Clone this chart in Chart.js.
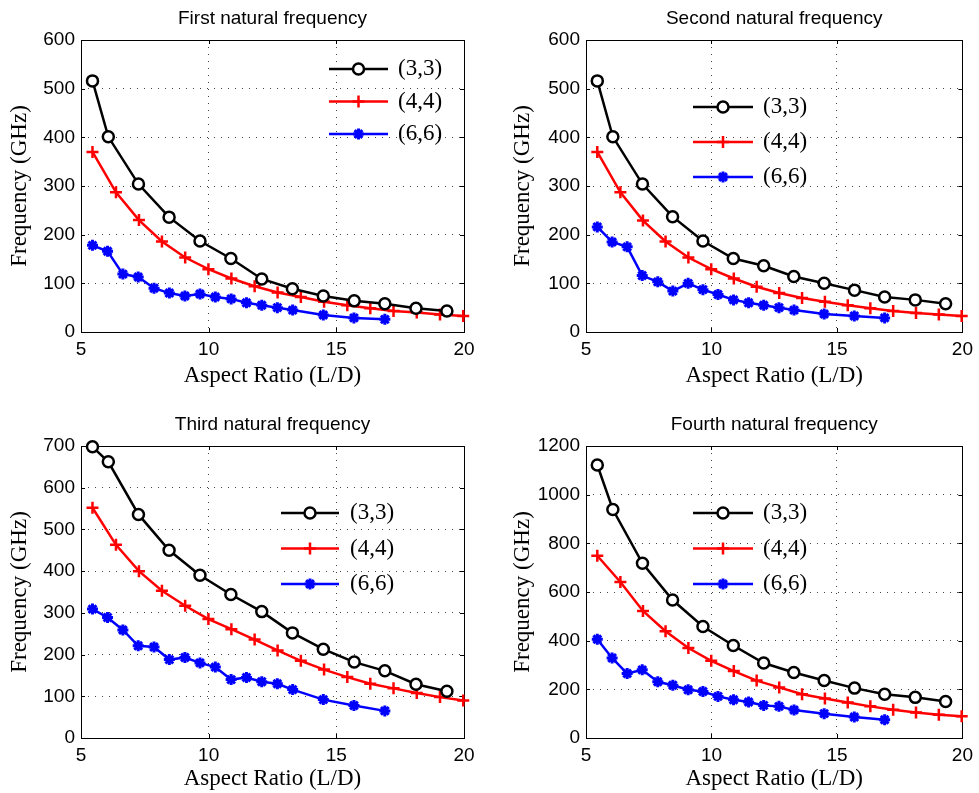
<!DOCTYPE html>
<html>
<head>
<meta charset="utf-8">
<script src="https://cdn.jsdelivr.net/npm/chart.js@4.4.1/dist/chart.umd.min.js"></script>
<style>
  html, body { margin: 0; padding: 0; background: #ffffff; }
  #wrap { position: relative; width: 979px; height: 793px; overflow: hidden; }
  canvas { position: absolute; }
</style>
</head>
<body>
<div id="wrap">
  <canvas id="c1" width="490" height="397" style="left:0px;top:0px"></canvas>
  <canvas id="c2" width="489" height="397" style="left:490px;top:0px"></canvas>
  <canvas id="c3" width="490" height="396" style="left:0px;top:397px"></canvas>
  <canvas id="c4" width="489" height="396" style="left:490px;top:397px"></canvas>
</div>
<script>
// ---------- DATA ----------
const seriesNames = ['(3,3)', '(4,4)', '(6,6)'];
const chartTitles = ['First natural frequency', 'Second natural frequency', 'Third natural frequency', 'Fourth natural frequency'];
const xTitle = 'Aspect Ratio (L/D)';
const yTitle = 'Frequency (GHz)';

// aspect ratios (L/D) for each tube
const aspect33 = [5.45, 6.07, 7.25, 8.45, 9.66, 10.87, 12.08, 13.28, 14.49, 15.70, 16.90, 18.12, 19.33];
const aspect44 = [5.45, 6.37, 7.27, 8.17, 9.08, 9.99, 10.89, 11.80, 12.70, 13.61, 14.52, 15.43, 16.33, 17.24, 18.15, 19.06, 19.97];
const aspect66 = [5.45, 6.04, 6.64, 7.24, 7.86, 8.46, 9.07, 9.66, 10.26, 10.88, 11.48, 12.08, 12.69, 13.29, 14.49, 15.69, 16.90];

// first natural frequency (GHz)
const f1_33 = [516, 401, 304, 236, 187, 151, 109, 89, 74, 64, 58, 49, 43];
const f1_44 = [370, 287, 230, 186, 153, 129, 110, 94, 81, 72, 62, 55, 49, 43, 40, 36, 33];
const f1_66 = [178, 166, 119, 113, 90, 80, 74, 78, 72, 68, 60, 55, 50, 45, 35, 29, 26];

// second natural frequency (GHz)
const f2_33 = [516, 401, 304, 237, 187, 151, 136, 114, 100, 86, 72, 66, 58];
const f2_44 = [370, 287, 229, 186, 153, 129, 110, 93, 80, 70, 62, 55, 49, 43, 39, 36, 33];
const f2_66 = [216, 185, 175, 116, 103, 84, 100, 87, 77, 66, 60, 55, 50, 45, 37, 33, 29];

// third natural frequency (GHz)
const f3_33 = [698, 662, 536, 450, 390, 344, 303, 252, 213, 182, 161, 129, 112];
const f3_44 = [552, 463, 400, 353, 317, 285, 261, 236, 210, 185, 164, 146, 130, 119, 108, 98, 90];
const f3_66 = [309, 289, 259, 221, 218, 188, 193, 180, 170, 140, 145, 135, 130, 116, 92, 78, 65];

// fourth natural frequency (GHz)
const f4_33 = [1122, 939, 718, 567, 458, 380, 308, 269, 236, 205, 180, 167, 150];
const f4_44 = [749, 641, 522, 439, 370, 317, 275, 236, 208, 180, 162, 146, 130, 116, 105, 96, 89];
const f4_66 = [406, 329, 265, 280, 231, 217, 198, 191, 171, 157, 148, 134, 130, 115, 100, 86, 75];

// axis ticks
const xTicks = [5, 10, 15, 20];
const yMax = [600, 600, 700, 1200];
const yStep = [100, 100, 100, 200];

// ---------- STYLE ----------
const styles = [
  { color: '#000000', pointStyle: 'circle', radius: 5.5, pbw: 2.5, fill: '#ffffff' },
  { color: '#ff0000', pointStyle: 'cross', radius: 6, pbw: 2.5, fill: '#ff0000' },
  { color: '#0000ff', pointStyle: 'star', radius: 5.5, pbw: 3, fill: '#0000ff' }
];

function toXY(xs, ys) { return ys.map((v, i) => ({ x: xs[i], y: v })); }

const framePlugin = {
  id: 'frame',
  beforeDatasetsDraw(chart) {
    const { ctx, chartArea: a, scales } = chart;
    ctx.save();
    ctx.strokeStyle = '#000';
    ctx.lineWidth = 1;
    ctx.strokeRect(Math.round(a.left) + 0.5, Math.round(a.top) + 0.5, Math.round(a.right - a.left), Math.round(a.bottom - a.top));
    const tl = 4;
    ctx.beginPath();
    scales.x.ticks.forEach(t => {
      const px = Math.round(scales.x.getPixelForValue(t.value)) + 0.5;
      ctx.moveTo(px, a.bottom); ctx.lineTo(px, a.bottom - tl);
      ctx.moveTo(px, a.top); ctx.lineTo(px, a.top + tl);
    });
    scales.y.ticks.forEach(t => {
      const py = Math.round(scales.y.getPixelForValue(t.value)) + 0.5;
      ctx.moveTo(a.left, py); ctx.lineTo(a.left + tl, py);
      ctx.moveTo(a.right, py); ctx.lineTo(a.right - tl, py);
    });
    ctx.stroke();
    ctx.restore();
  }
};

const legendPlugin = {
  id: 'innerLegend',
  afterDatasetsDraw(chart, args, opts) {
    const { ctx } = chart;
    ctx.save();
    chart.data.datasets.forEach((ds, i) => {
      const y = opts.y0 + i * opts.dy;
      ctx.strokeStyle = ds.borderColor;
      ctx.lineWidth = ds.borderWidth;
      ctx.beginPath();
      ctx.moveTo(opts.x1, y); ctx.lineTo(opts.x2, y);
      ctx.stroke();
      ctx.strokeStyle = ds.pointBorderColor;
      ctx.fillStyle = ds.pointBackgroundColor;
      ctx.lineWidth = ds.pointBorderWidth;
      Chart.helpers.drawPoint(ctx, { pointStyle: ds.pointStyle, rotation: 0, radius: ds.pointRadius, borderWidth: ds.pointBorderWidth }, (opts.x1 + opts.x2) / 2, y);
      ctx.fillStyle = '#000';
      ctx.font = '23px "Liberation Serif", "Times New Roman", serif';
      ctx.textBaseline = 'middle';
      ctx.textAlign = 'left';
      ctx.fillText(ds.label, opts.tx, y);
    });
    ctx.restore();
  }
};

const panels = [
  { id: 'c1', data: [f1_33, f1_44, f1_66], yw: 81, pr: 26, xh: 65, tTop: 7, tBot: 10.2, yTitlePad: 6.2, xTitlePad: 7.5,
    legend: { x1: 329, x2: 388, tx: 398, y0: 69, dy: 32.5 } },
  { id: 'c2', data: [f2_33, f2_44, f2_66], yw: 96, pr: 12, xh: 65, tTop: 7, tBot: 10.2, yTitlePad: 19.2, xTitlePad: 7.5,
    legend: { x1: 203, x2: 263, tx: 273, y0: 107, dy: 35 } },
  { id: 'c3', data: [f3_33, f3_44, f3_66], yw: 81, pr: 26, xh: 55, tTop: 16, tBot: 10.2, yTitlePad: 6.2, xTitlePad: 0,
    legend: { x1: 281, x2: 339, tx: 350, y0: 116, dy: 35.5 } },
  { id: 'c4', data: [f4_33, f4_44, f4_66], yw: 96, pr: 12, xh: 55, tTop: 16, tBot: 10.2, yTitlePad: 19.2, xTitlePad: 0,
    legend: { x1: 203, x2: 263, tx: 273, y0: 116, dy: 35.5 } }
];
const aspects = [aspect33, aspect44, aspect66];

const tickFont = { family: '"Liberation Sans", Arial, Helvetica, sans-serif', size: 19 };
const axisTitleFont = { family: '"Liberation Serif", "Times New Roman", serif', size: 23 };

panels.forEach((p, k) => {
  const datasets = p.data.map((vals, i) => ({
    label: seriesNames[i],
    data: toXY(aspects[i], vals),
    borderColor: styles[i].color,
    backgroundColor: styles[i].color,
    borderWidth: 2.5,
    pointStyle: styles[i].pointStyle,
    pointRadius: styles[i].radius,
    pointBorderWidth: styles[i].pbw,
    pointBorderColor: styles[i].color,
    pointBackgroundColor: styles[i].fill,
    tension: 0,
    clip: false
  }));
  new Chart(document.getElementById(p.id), {
    type: 'line',
    data: { datasets },
    options: {
      responsive: false,
      animation: false,
      devicePixelRatio: 1,
      layout: { padding: { left: 0, right: p.pr, top: 0, bottom: 0 } },
      plugins: {
        legend: { display: false },
        tooltip: { enabled: false },
        title: {
          display: true,
          text: chartTitles[k],
          fullSize: false,
          color: '#000',
          font: { family: '"Liberation Sans", Arial, Helvetica, sans-serif', size: 19, weight: 'normal' },
          padding: { top: p.tTop, bottom: p.tBot }
        },
        innerLegend: p.legend
      },
      scales: {
        x: {
          type: 'linear',
          min: 5, max: 20,
          afterFit: (s) => { s.height = p.xh; },
          afterBuildTicks: (s) => { s.ticks = xTicks.map(v => ({ value: v })); },
          ticks: { color: '#000', font: tickFont, padding: 6, maxRotation: 0, callback: (v) => String(v) },
          grid: { color: '#444', lineWidth: 1, drawTicks: false },
          border: { display: false, dash: [1, 6] },
          title: { display: true, text: xTitle, color: '#000', font: axisTitleFont, padding: { top: 0, bottom: p.xTitlePad } }
        },
        y: {
          type: 'linear',
          min: 0, max: yMax[k],
          afterFit: (s) => { s.width = p.yw; },
          ticks: { stepSize: yStep[k], color: '#000', font: tickFont, padding: 6, callback: (v) => String(v) },
          grid: { color: '#444', lineWidth: 1, drawTicks: false },
          border: { display: false, dash: [1, 6] },
          title: { display: true, text: yTitle, color: '#000', font: axisTitleFont, padding: { top: p.yTitlePad, bottom: 0 } }
        }
      }
    },
    plugins: [framePlugin, legendPlugin]
  });
});
</script>
</body>
</html>
